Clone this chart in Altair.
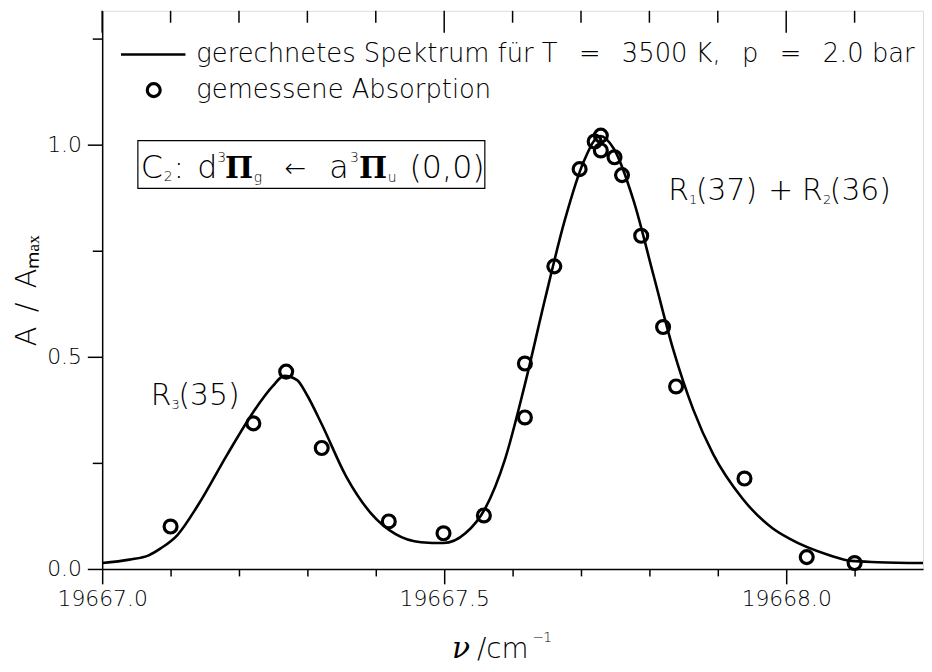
import altair as alt
import pandas as pd

FONT = "DejaVu Sans"
FW = 200
SP = "\u2002"
WSP = "\u2002\u2004"

# computed spectrum (wavenumber, normalized absorbance)
line_x = [19667.000, 19667.040, 19667.068, 19667.086, 19667.110, 19667.140, 19667.183,
          19667.221, 19667.249, 19667.266, 19667.285, 19667.299, 19667.321, 19667.357,
          19667.393, 19667.429, 19667.466, 19667.499, 19667.531, 19667.560, 19667.589,
          19667.618, 19667.647, 19667.676, 19667.704, 19667.728, 19667.748, 19667.777,
          19667.806, 19667.835, 19667.864, 19667.893, 19667.936, 19667.980, 19668.004,
          19668.062, 19668.095, 19668.134, 19668.200]
line_y = [0.014, 0.022, 0.032, 0.049, 0.080, 0.150, 0.270,
          0.370, 0.430, 0.455, 0.445, 0.411, 0.341, 0.217,
          0.131, 0.082, 0.063, 0.061, 0.084, 0.143, 0.259,
          0.435, 0.633, 0.820, 0.960, 1.020, 0.990, 0.867,
          0.692, 0.516, 0.376, 0.271, 0.166, 0.096, 0.072,
          0.033, 0.019, 0.016, 0.014]

# measured absorption (circles)
pts_x = [19667.100, 19667.221, 19667.269, 19667.321, 19667.419, 19667.499, 19667.558,
         19667.618, 19667.618, 19667.661, 19667.698, 19667.720, 19667.729, 19667.729,
         19667.749, 19667.760, 19667.788, 19667.820, 19667.839, 19667.939, 19668.030,
         19668.100]
pts_y = [0.100, 0.343, 0.465, 0.285, 0.112, 0.084, 0.126,
         0.357, 0.484, 0.713, 0.942, 1.007, 1.021, 0.986,
         0.970, 0.928, 0.785, 0.570, 0.430, 0.213, 0.028,
         0.014]

x_major = [19667.0, 19667.5, 19668.0]
x_minor = [19667.1, 19667.2, 19667.3, 19667.4, 19667.6, 19667.7, 19667.8, 19667.9, 19668.1]
y_major = [0.0, 0.5, 1.0]
y_minor = [0.25, 0.75, 1.25]

line_df = pd.DataFrame({"nu": line_x, "A": line_y})
pts_df = pd.DataFrame({"nu": pts_x, "A": pts_y})
xmaj_df = pd.DataFrame({"nu": x_major})
xmin_df = pd.DataFrame({"nu": x_minor})

xs = alt.Scale(domain=[19667.0, 19668.2], nice=False, zero=False)
ys = alt.Scale(domain=[0.0, 1.315], nice=False, zero=False)

axis_common = dict(grid=False, domainColor="black", domainWidth=1.5, tickColor="black",
                   tickWidth=1.5, labelFont=FONT, labelFontSize=22, labelFontWeight=FW,
                   labelColor="#000", labelFlush=False, labelOverlap=False, labelBound=False)

line = alt.Chart(line_df).mark_line(color="black", strokeWidth=2.6, interpolate="monotone").encode(
    x=alt.X("nu:Q", scale=xs, axis=alt.Axis(orient="bottom", values=x_major, format=".1f",
                                             tickSize=15, labelPadding=5, title=None, **axis_common)),
    y=alt.Y("A:Q", scale=ys, axis=alt.Axis(orient="left", values=y_major, format=".1f",
                                            tickSize=15, labelPadding=6,
                                            title=f"A{SP}/{SP}Aₘₐₓ", titleFont=FONT, titleFontSize=29,
                                            titleFontWeight=FW, titleColor="#000",
                                            titleX=-76, titleY=282, titleAngle=270,
                                            titleAlign="center", titleBaseline="middle",
                                            **axis_common)),
)

points = alt.Chart(pts_df).mark_point(shape="circle", filled=False, color="black",
                                      strokeWidth=3.2, size=170, opacity=1).encode(
    x=alt.X("nu:Q", scale=xs, axis=alt.Axis(orient="bottom", values=x_minor, labels=False,
                                             domain=False, tickSize=7, title=None, grid=False,
                                             tickColor="black", tickWidth=1.5)),
    y=alt.Y("A:Q", scale=ys, axis=alt.Axis(orient="left", values=y_minor, labels=False,
                                            domain=False, tickSize=10, title=None, grid=False,
                                            tickColor="black", tickWidth=1.5)),
)

top_minor = alt.Chart(xmin_df).mark_rule(color="black", strokeWidth=1.5).encode(
    x=alt.X("nu:Q", scale=xs, axis=None), y=alt.value(0), y2=alt.value(12))
top_major = alt.Chart(xmaj_df).mark_rule(color="black", strokeWidth=1.5).encode(
    x=alt.X("nu:Q", scale=xs, axis=None), y=alt.value(0), y2=alt.value(22))


def txt(s, x, y, size=28, weight=FW, style="normal", font=FONT, baseline="alphabetic"):
    return alt.Chart(pd.DataFrame({"t": [s]})).mark_text(
        align="left", baseline=baseline, font=font, fontSize=size, fontWeight=weight,
        fontStyle=style, color="black").encode(x=alt.value(x), y=alt.value(y), text="t:N")


one = pd.DataFrame({"k": [0]})
leg_line = alt.Chart(one).mark_rule(color="black", strokeWidth=2.6).encode(
    x=alt.value(19), x2=alt.value(84), y=alt.value(44))
leg_pt = alt.Chart(one).mark_point(shape="circle", filled=False, color="black",
                                   strokeWidth=3.2, size=170, opacity=1).encode(
    x=alt.value(52), y=alt.value(80))
leg_t1 = txt(f"gerechnetes Spektrum für T{WSP}={WSP}3500 K,{WSP}p{WSP}={WSP}2.0 bar", 95, 44, size=26,
             baseline="middle")
leg_t2 = txt("gemessene Absorption", 95, 80, size=26, baseline="middle")

box = alt.Chart(one).mark_rect(fill="white", fillOpacity=0, stroke="black", strokeWidth=1.2).encode(
    x=alt.value(36), x2=alt.value(386), y=alt.value(131), y2=alt.value(179))

SERIF = "DejaVu Serif"
box_txt = [
    txt("C", 39, 169, 32),
    txt("2", 62, 172, 14),
    txt(":", 72, 169, 32),
    txt("d", 96, 169, 32),
    txt("3", 116, 152, 14),
    txt("Π", 124, 169, 30, weight="bold", font=SERIF),
    txt("g", 153, 173, 14),
    txt("←", 184, 168, 26),
    txt("a", 229, 169, 32),
    txt("3", 250, 152, 14),
    txt("Π", 259, 169, 30, weight="bold", font=SERIF),
    txt("u", 288, 173, 14),
    txt("(0,0)", 310, 169, 32),
]

ann = [
    txt("R", 571, 191, 30), txt("1", 592, 195, 13), txt("(37)", 599, 191, 30),
    txt("+", 672, 191, 30),
    txt("R", 706, 191, 30), txt("2", 727, 195, 13), txt("(36)", 734, 191, 30),
    txt("R", 49, 398, 30), txt("3", 70, 402, 13), txt("(35)", 77, 398, 30),
]

xtitle = [
    txt("ν", 353, 653, 30, weight="normal", style="italic", font=SERIF),
    txt("/cm", 378, 653, 28),
    txt("−", 434, 637, 14),
    txt("1", 445, 637, 14),
]

chart = alt.layer(line, points, top_minor, top_major, leg_line, leg_pt, leg_t1, leg_t2, box,
                  *box_txt, *ann, *xtitle).resolve_axis(x="independent", y="independent").properties(
    width=828, height=563,
    autosize=alt.AutoSizeParams(type="none"),
    padding={"left": 95, "top": 0, "right": 1, "bottom": 93},
).configure_view(stroke="black", strokeWidth=1.5).configure(background="white")

chart.save("out.html", embed_options={"renderer": "svg", "actions": False})
